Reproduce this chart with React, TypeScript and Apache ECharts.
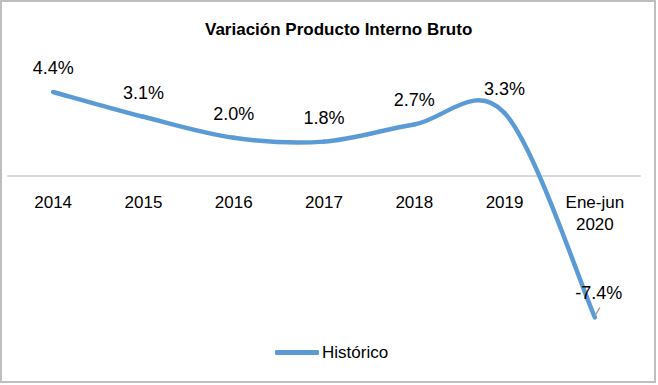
import React, { useEffect, useRef } from "react";
import * as echarts from "echarts";

const categories = ["2014", "2015", "2016", "2017", "2018", "2019", "Ene-jun\n2020"];
const historico = [4.4, 3.1, 2.0, 1.8, 2.7, 3.3, -7.4];
const titleText = "Variación Producto Interno Bruto";
const seriesName = "Histórico";

const FONT = "'Liberation Sans', Arial, sans-serif";
const LINE_COLOR = "#5b9bd5";

export default function App() {
  const ref = useRef<HTMLDivElement>(null);
  useEffect(() => {
    if (!ref.current) return;
    const chart = echarts.init(ref.current, undefined, { renderer: "svg" });
    const n = historico.length;
    chart.setOption({
      animation: false,
      backgroundColor: "#ffffff",
      title: {
        text: titleText,
        left: 205,
        top: 21,
        padding: 0,
        textStyle: { fontFamily: FONT, fontSize: 17, fontWeight: "bold", color: "#000000" },
      },
      graphic: [
        {
          type: "rect",
          shape: { x: 1, y: 1, width: 654, height: 381 },
          style: { fill: "none", stroke: "#bfbfbf", lineWidth: 2 },
          silent: true,
        },
      ],
      legend: {
        data: [seriesName],
        left: 275,
        top: 344,
        padding: 0,
        icon: "roundRect",
        itemWidth: 44,
        itemHeight: 5,
        itemStyle: { color: LINE_COLOR },
        textStyle: { fontFamily: FONT, fontSize: 17, color: "#000000", padding: [0, 0, 0, -2] },
      },
      grid: { left: 8, right: 18, top: 80.5, bottom: 56.2, containLabel: false },
      xAxis: {
        type: "category",
        data: categories,
        boundaryGap: true,
        offset: -152.8,
        axisLine: { onZero: false, lineStyle: { color: "#d9d9d9", width: 2 } },
        axisTick: { show: false },
        axisLabel: {
          fontFamily: FONT,
          fontSize: 17,
          color: "#000000",
          margin: 15,
          lineHeight: 22,
          interval: 0,
        },
      },
      yAxis: {
        type: "value",
        min: -8,
        max: 5,
        show: false,
        splitLine: { show: false },
      },
      series: [
        {
          name: seriesName,
          type: "custom",
          clip: false,
          itemStyle: { color: LINE_COLOR },
          data: historico.map((v, i) => [i, v]),
          encode: { x: 0, y: 1 },
          renderItem: (params: any, api: any) => {
            const i = params.dataIndex;
            const pt = (j: number) => {
              const k = Math.max(0, Math.min(n - 1, j));
              return api.coord([k, historico[k]]);
            };
            const p0 = pt(i - 1);
            const p1 = pt(i);
            const p2 = pt(i + 1);
            const p3 = pt(i + 2);
            const children: any[] = [];
            if (i < n - 1) {
              children.push({
                type: "bezierCurve",
                shape: {
                  x1: p1[0],
                  y1: p1[1],
                  x2: p2[0],
                  y2: p2[1],
                  cpx1: p1[0] + (p2[0] - p0[0]) / 6,
                  cpy1: p1[1] + (p2[1] - p0[1]) / 6,
                  cpx2: p2[0] - (p3[0] - p1[0]) / 6,
                  cpy2: p2[1] - (p3[1] - p1[1]) / 6,
                },
                style: { stroke: LINE_COLOR, lineWidth: 4.5, fill: "none", lineCap: "round" },
              });
            }
            const last = i === n - 1;
            if (last) {
              children.push({
                type: "line",
                shape: { x1: p1[0] + 0.5, y1: p1[1] - 2, x2: p1[0] + 5, y2: p1[1] - 10 },
                style: { stroke: "#a6a6a6", lineWidth: 1.5 },
                z2: 5,
              });
            }
            children.push({
              type: "text",
              x: p1[0] + (last ? 4 : 0),
              y: p1[1] - 15,
              z2: 10,
              style: {
                text: historico[i].toFixed(1) + "%",
                fill: "#000000",
                fontFamily: FONT,
                fontSize: 18,
                align: "center",
                verticalAlign: "bottom",
              },
            });
            return { type: "group", children };
          },
        },
      ],
    });
    return () => chart.dispose();
  }, []);
  return (
    <div
      ref={ref}
      style={{ position: "fixed", left: 0, top: 0, width: 658, height: 385 }}
    />
  );
}
